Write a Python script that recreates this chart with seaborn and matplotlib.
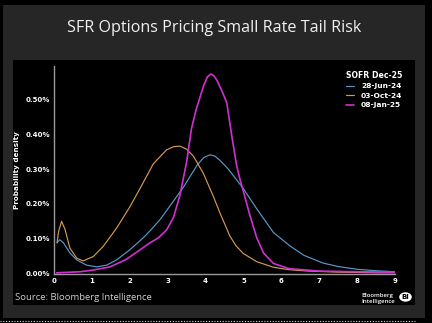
import numpy as np
import pandas as pd
import matplotlib
matplotlib.use("Agg")
import matplotlib.pyplot as plt
import seaborn as sns
from matplotlib.patches import Rectangle, Circle
from matplotlib.lines import Line2D

# ---- data (probability density, in %) ----
series_names = ["28-Jun-24", "03-Oct-24", "08-Jan-25"]

jun_x = [0.08, 0.15, 0.25, 0.42, 0.6, 0.86, 1.13, 1.39, 1.65, 2.0, 2.36, 2.53, 2.8, 3.06, 3.41,
         3.77, 3.95, 4.12, 4.25, 4.38, 4.6, 4.99, 5.35, 5.79, 6.23, 6.6, 7.1, 7.5, 8.0, 8.5, 9.0]
jun_y = [0.088, 0.097, 0.088, 0.059, 0.039, 0.024, 0.019, 0.024, 0.039, 0.068, 0.103, 0.122, 0.155, 0.194, 0.247,
         0.31, 0.333, 0.341, 0.337, 0.325, 0.3, 0.245, 0.186, 0.118, 0.079, 0.052, 0.03, 0.02, 0.012, 0.008, 0.005]

oct_x = [0.08, 0.12, 0.2, 0.29, 0.42, 0.6, 0.77, 1.04, 1.3, 1.65, 2.0, 2.3, 2.62, 2.97, 3.15, 3.32,
         3.5, 3.68, 3.94, 4.2, 4.38, 4.64, 4.8, 4.99, 5.35, 5.79, 6.2, 6.7, 7.5, 8.5, 9.0]
oct_y = [0.088, 0.12, 0.15, 0.127, 0.073, 0.044, 0.036, 0.049, 0.078, 0.13, 0.191, 0.25, 0.315, 0.355, 0.364, 0.366,
         0.357, 0.337, 0.288, 0.223, 0.174, 0.108, 0.08, 0.058, 0.034, 0.018, 0.011, 0.007, 0.004, 0.002, 0.002]

jan_x = [0.07, 0.69, 1.04, 1.48, 1.9, 2.27, 2.53, 2.75, 2.97, 3.15, 3.32, 3.5, 3.63, 3.75, 3.85, 3.95, 4.05,
         4.14, 4.22, 4.3, 4.45, 4.56, 4.7, 4.82, 4.91, 5.0, 5.17, 5.35, 5.53, 5.79, 6.2, 7.0, 8.0, 9.0]
jan_y = [0.002, 0.005, 0.01, 0.019, 0.04, 0.068, 0.088, 0.102, 0.125, 0.16, 0.223, 0.32, 0.417, 0.47, 0.505, 0.54, 0.565,
         0.573, 0.568, 0.555, 0.52, 0.49, 0.39, 0.31, 0.27, 0.235, 0.167, 0.103, 0.059, 0.029, 0.014, 0.007, 0.005, 0.004]

x_ticks = [0, 1, 2, 3, 4, 5, 6, 7, 8, 9]
y_ticks = [0.0, 0.1, 0.2, 0.3, 0.4, 0.5]
y_tick_labels = ["0.00%", "0.10%", "0.20%", "0.30%", "0.40%", "0.50%"]

colors = {"28-Jun-24": "#5a98c8", "03-Oct-24": "#d49a4c", "08-Jan-25": "#d030d0"}
widths = {"28-Jun-24": 0.85, "03-Oct-24": 0.85, "08-Jan-25": 1.2}

df = pd.concat([
    pd.DataFrame({"x": jun_x, "y": jun_y, "series": series_names[0]}),
    pd.DataFrame({"x": oct_x, "y": oct_y, "series": series_names[1]}),
    pd.DataFrame({"x": jan_x, "y": jan_y, "series": series_names[2]}),
], ignore_index=True)

sns.set_style("dark")
plt.rcParams["font.family"] = ["DejaVu Sans"]

W, H = 432, 323
fig = plt.figure(figsize=(W / 100, H / 100), dpi=100)
fig.patch.set_facecolor("black")

def px_rect(x0, y0, x1, y1, color, z=0):
    r = Rectangle((x0 / W, 1 - y1 / H), (x1 - x0) / W, (y1 - y0) / H,
                  transform=fig.transFigure, facecolor=color, edgecolor="none", zorder=z)
    fig.patches.append(r)

px_rect(3, 5, 425, 318, "#262626", z=-3)
px_rect(13, 60, 415, 305, "black", z=-2)
fig.lines.append(Line2D([0, 415 / W], [1 - 320.5 / H] * 2, transform=fig.transFigure,
                        color="#dddddd", linestyle=(0, (1, 1.5)), linewidth=0.8, zorder=-1))

fig.text(214 / W, 1 - 28 / H, "SFR Options Pricing Small Rate Tail Risk", ha="center", va="center",
         color="#f0f0f0", fontsize=11.6, family=["Open Sans", "DejaVu Sans"])

ax = fig.add_axes([54 / W, 1 - 273.5 / H, 341 / W, 207.5 / H])
ax.set_zorder(2)
ax.set_facecolor("black")
for name in series_names:
    sub = df[df["series"] == name]
    sns.lineplot(data=sub, x="x", y="y", ax=ax, color=colors[name], linewidth=widths[name],
                 label=name, sort=False)

ax.set_xlim(0, 9)
ax.set_ylim(0, 0.596)
ax.set_xticks(x_ticks)
ax.set_xticklabels([str(t) for t in x_ticks])
ax.set_yticks(y_ticks)
ax.set_yticklabels(y_tick_labels)
ax.tick_params(length=0, colors="white", labelsize=5, pad=3)
for lab in ax.get_xticklabels() + ax.get_yticklabels():
    lab.set_fontweight("bold")
ax.set_xlabel("")
ax.set_ylabel("Probability density", color="white", fontsize=5.2, fontweight="bold", labelpad=4)
ax.grid(False)
for s in ["top", "right"]:
    ax.spines[s].set_visible(False)
for s in ["left", "bottom"]:
    ax.spines[s].set_visible(True)
    ax.spines[s].set_color("#9a9a9a")
    ax.spines[s].set_linewidth(1.0)

leg = ax.legend(title="SOFR Dec-25", loc="upper right", bbox_to_anchor=(1.035, 1.0), frameon=False,
                fontsize=5.4, title_fontsize=5.6, handlelength=1.0, handletextpad=1.0,
                labelspacing=0.45, borderaxespad=0.2)
leg.get_title().set_color("white")
leg.get_title().set_fontweight("bold")
for t in leg.get_texts():
    t.set_color("white")
    t.set_fontweight("bold")

fig.text(15 / W, 1 - 298 / H, "Source: Bloomberg Intelligence", ha="left", va="center",
         color="#cfcfcf", fontsize=6.8, family=["Open Sans", "DejaVu Sans"])
fig.text(361 / W, 1 - 298.5 / H, "Bloomberg\nIntelligence", ha="left", va="center",
         color="white", fontsize=4.3, linespacing=1.0, family=["Open Sans", "DejaVu Sans"],
         fontweight="semibold")
circ = Circle((405.5 / W, 1 - 297 / H), 6.3 / W, transform=fig.transFigure,
              facecolor="white", edgecolor="none", zorder=3)
fig.patches.append(circ)
fig.text(405.5 / W, 1 - 297 / H, "BI", ha="center", va="center", color="black",
         fontsize=5, fontweight="bold", zorder=4)

fig.savefig("out.png", dpi=100, facecolor=fig.get_facecolor())
